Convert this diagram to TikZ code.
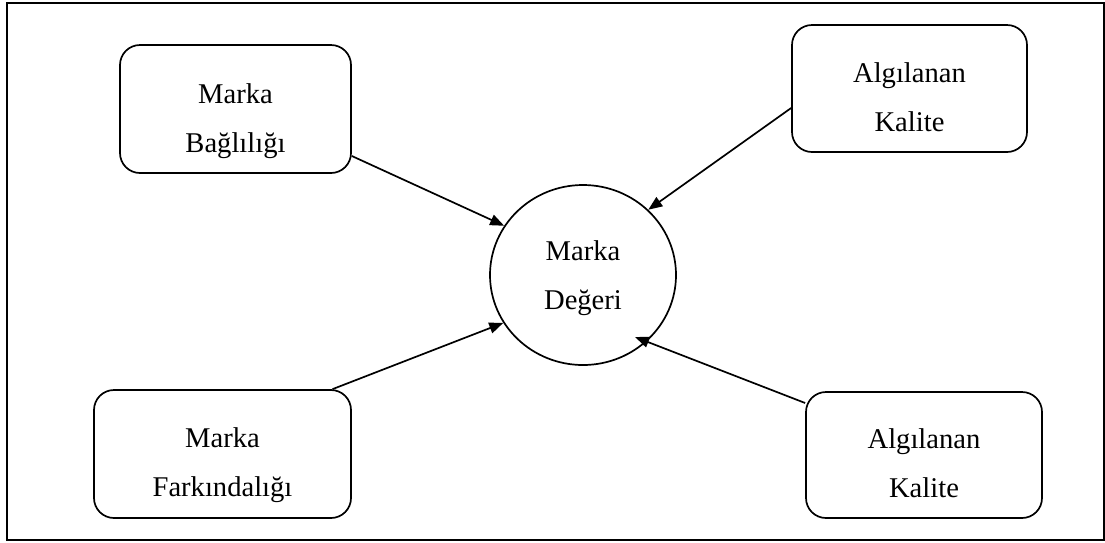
\documentclass[tikz,border=0pt]{standalone}
\usepackage{fontspec}
\setmainfont{Liberation Serif}
\usetikzlibrary{arrows.meta,shapes.geometric,calc}
\begin{document}
\begin{tikzpicture}[x=1pt,y=-1pt,
  txt/.style={font=\fontsize{28.6}{49}\selectfont,align=center,inner sep=0pt},
  box/.style={draw,line width=1.7pt,rounded corners=20pt,inner sep=0pt},
  hub/.style={draw,ellipse,line width=1.7pt,inner sep=0pt,minimum width=186pt,minimum height=180pt},
  arr/.style={line width=1.7pt,-{Triangle[length=14pt,width=11pt]}},
  frameline/.style={line width=1.7pt}]
\useasboundingbox (0,0) rectangle (1105,542);
\draw[frameline] (7,3) rectangle (1104,540);
\node[box,minimum width=231pt,minimum height=128pt] (b1) at (235.5,109) {};
\node[box,minimum width=235pt,minimum height=127pt] (b2) at (909.5,88.5) {};
\node[box,minimum width=257pt,minimum height=128pt] (b3) at (222.5,454) {};
\node[box,minimum width=236pt,minimum height=126pt] (b4) at (924,455) {};
\node[hub] (c) at (583,275) {};
\node[txt] (t1) at ([yshift=-12pt]b1.center) {Marka\\Bağlılığı};
\node[txt] (t2) at ([yshift=-9pt]b2.center) {Algılanan\\Kalite};
\node[txt] (t3) at ([yshift=-11pt]b3.center) {Marka\\Farkındalığı};
\node[txt] (t4) at ([yshift=-8pt]b4.center) {Algılanan\\Kalite};
\node[txt] (tc) at ([yshift=-3pt]c.center) {Marka\\Değeri};
\draw[arr] ([yshift=-47pt]b1.east) -- (c.148);
\draw[arr] ([yshift=-19.5pt]b2.west) -- (c.45.5);
\draw[arr] ([xshift=110pt]b3.north) -- (c.211);
\draw[arr] ([yshift=52pt]b4.west) -- ($(c.center)!0.88!(c.310)$);
\end{tikzpicture}
\end{document}
